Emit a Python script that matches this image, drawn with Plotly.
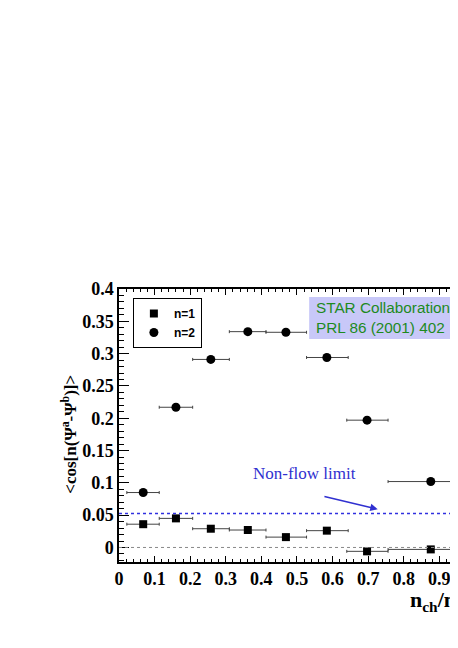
import plotly.graph_objects as go

# bins in n_ch / n_r (centre and lower/upper edge of each bin)
x_center = [0.068, 0.160, 0.258, 0.362, 0.469, 0.584, 0.697, 0.876]
x_low = [0.022, 0.113, 0.207, 0.310, 0.413, 0.527, 0.640, 0.756]
x_high = [0.113, 0.207, 0.310, 0.413, 0.527, 0.644, 0.756, 0.990]

# <cos[n(Psi_a - Psi_b)]> for the two harmonics
cos_n1 = [0.036, 0.045, 0.029, 0.027, 0.016, 0.026, -0.006, -0.003]
cos_n2 = [0.085, 0.217, 0.291, 0.334, 0.333, 0.294, 0.197, 0.102]
err_n1 = [0.003, 0.003, 0.003, 0.003, 0.003, 0.004, 0.004, 0.003]
err_n2 = [0.003, 0.003, 0.003, 0.003, 0.003, 0.004, 0.005, 0.004]

non_flow_limit = 0.0527

err_plus = [h - c for h, c in zip(x_high, x_center)]
err_minus = [c - l for c, l in zip(x_center, x_low)]

serif = "Liberation Serif"
sans = "Liberation Sans"

fig = go.Figure()

for name, vals, errs, symbol, size in [
    ("n=1", cos_n1, err_n1, "square", 8),
    ("n=2", cos_n2, err_n2, "circle", 9),
]:
    fig.add_trace(go.Scatter(
        x=x_center,
        y=vals,
        mode="markers",
        name=name,
        marker=dict(symbol=symbol, size=size, color="black"),
        error_x=dict(type="data", symmetric=False, array=err_plus,
                     arrayminus=err_minus, color="#444444", thickness=1, width=1.5),
        error_y=dict(type="data", array=errs, color="black", thickness=1, width=0),
    ))

# dotted reference lines
fig.add_shape(type="line", xref="paper", x0=0, x1=1, yref="y", y0=0, y1=0,
              line=dict(color="#888888", width=1, dash="dot"))
fig.add_shape(type="line", xref="paper", x0=0, x1=1, yref="y",
              y0=non_flow_limit, y1=non_flow_limit,
              line=dict(color="#3030e0", width=1.5, dash="dot"))

# STAR label box
fig.add_shape(type="rect", xref="paper", yref="paper", x0=0.548, x1=1.05,
              y0=0.817, y1=0.971, fillcolor="#c8c8f8", line=dict(width=0), layer="above")
fig.add_annotation(xref="paper", yref="paper", x=0.562, y=0.894, xanchor="left",
                   yanchor="middle", align="left", showarrow=False,
                   text="STAR Collaboration<br>PRL 86 (2001) 402",
                   font=dict(family=sans, size=15.3, color="#1e8a1e"))

# non-flow limit label and arrow
fig.add_annotation(xref="paper", yref="paper", x=0.536, y=0.282, showarrow=False,
                   text="Non-flow limit", font=dict(family=serif, size=17, color="#3030d0"))
fig.add_annotation(x=0.727, y=0.0593, ax=0.573, ay=0.0794, axref="x", ayref="y",
                   text="", showarrow=True, arrowhead=2, arrowsize=1, arrowwidth=1.5,
                   arrowcolor="#3030d0")

# axis titles
fig.add_annotation(xref="paper", yref="paper", x=-0.184, y=0.692, textangle=-90,
                   showarrow=False,
                   text="<b>&lt;cos[n(Ψ<sup>a</sup>-Ψ<sup>b</sup>)]&gt;</b>",
                   font=dict(family=serif, size=17, color="black"))
fig.add_annotation(xref="paper", yref="paper", x=0.833, y=-0.085, xanchor="left",
                   yanchor="top", showarrow=False,
                   text="<b>n<sub>ch</sub>/n<sub>r</sub></b>",
                   font=dict(family=serif, size=22, color="black"))

fig.update_layout(
    width=458,
    height=648,
    margin=dict(l=111, r=0, t=281, b=94),
    plot_bgcolor="white",
    paper_bgcolor="white",
    showlegend=True,
    legend=dict(x=0.040, y=0.967, xanchor="left", yanchor="top",
                bordercolor="black", borderwidth=1, bgcolor="white",
                font=dict(family=sans, size=12, color="black", weight="bold"),
                itemwidth=30, itemsizing="trace", tracegroupgap=2),
    xaxis=dict(
        range=[0, 0.975], dtick=0.1, tick0=0, showgrid=False, zeroline=False,
        showline=True, linecolor="black", linewidth=1.5, mirror="ticks",
        ticks="inside", ticklen=6, tickcolor="black",
        minor=dict(dtick=0.02, ticks="inside", ticklen=3, tickcolor="black"),
        tickfont=dict(family=serif, size=18, color="black", weight="bold"),
        ticklabelstandoff=0,
    ),
    yaxis=dict(
        range=[-0.0225, 0.4], dtick=0.05, tick0=0, showgrid=False, zeroline=False,
        showline=True, linecolor="black", linewidth=1.5,
        ticks="inside", ticklen=10, tickcolor="black",
        minor=dict(dtick=0.01, ticks="inside", ticklen=5, tickcolor="black"),
        tickfont=dict(family=serif, size=18, color="black", weight="bold"),
    ),
)

fig.write_html("out.html")
